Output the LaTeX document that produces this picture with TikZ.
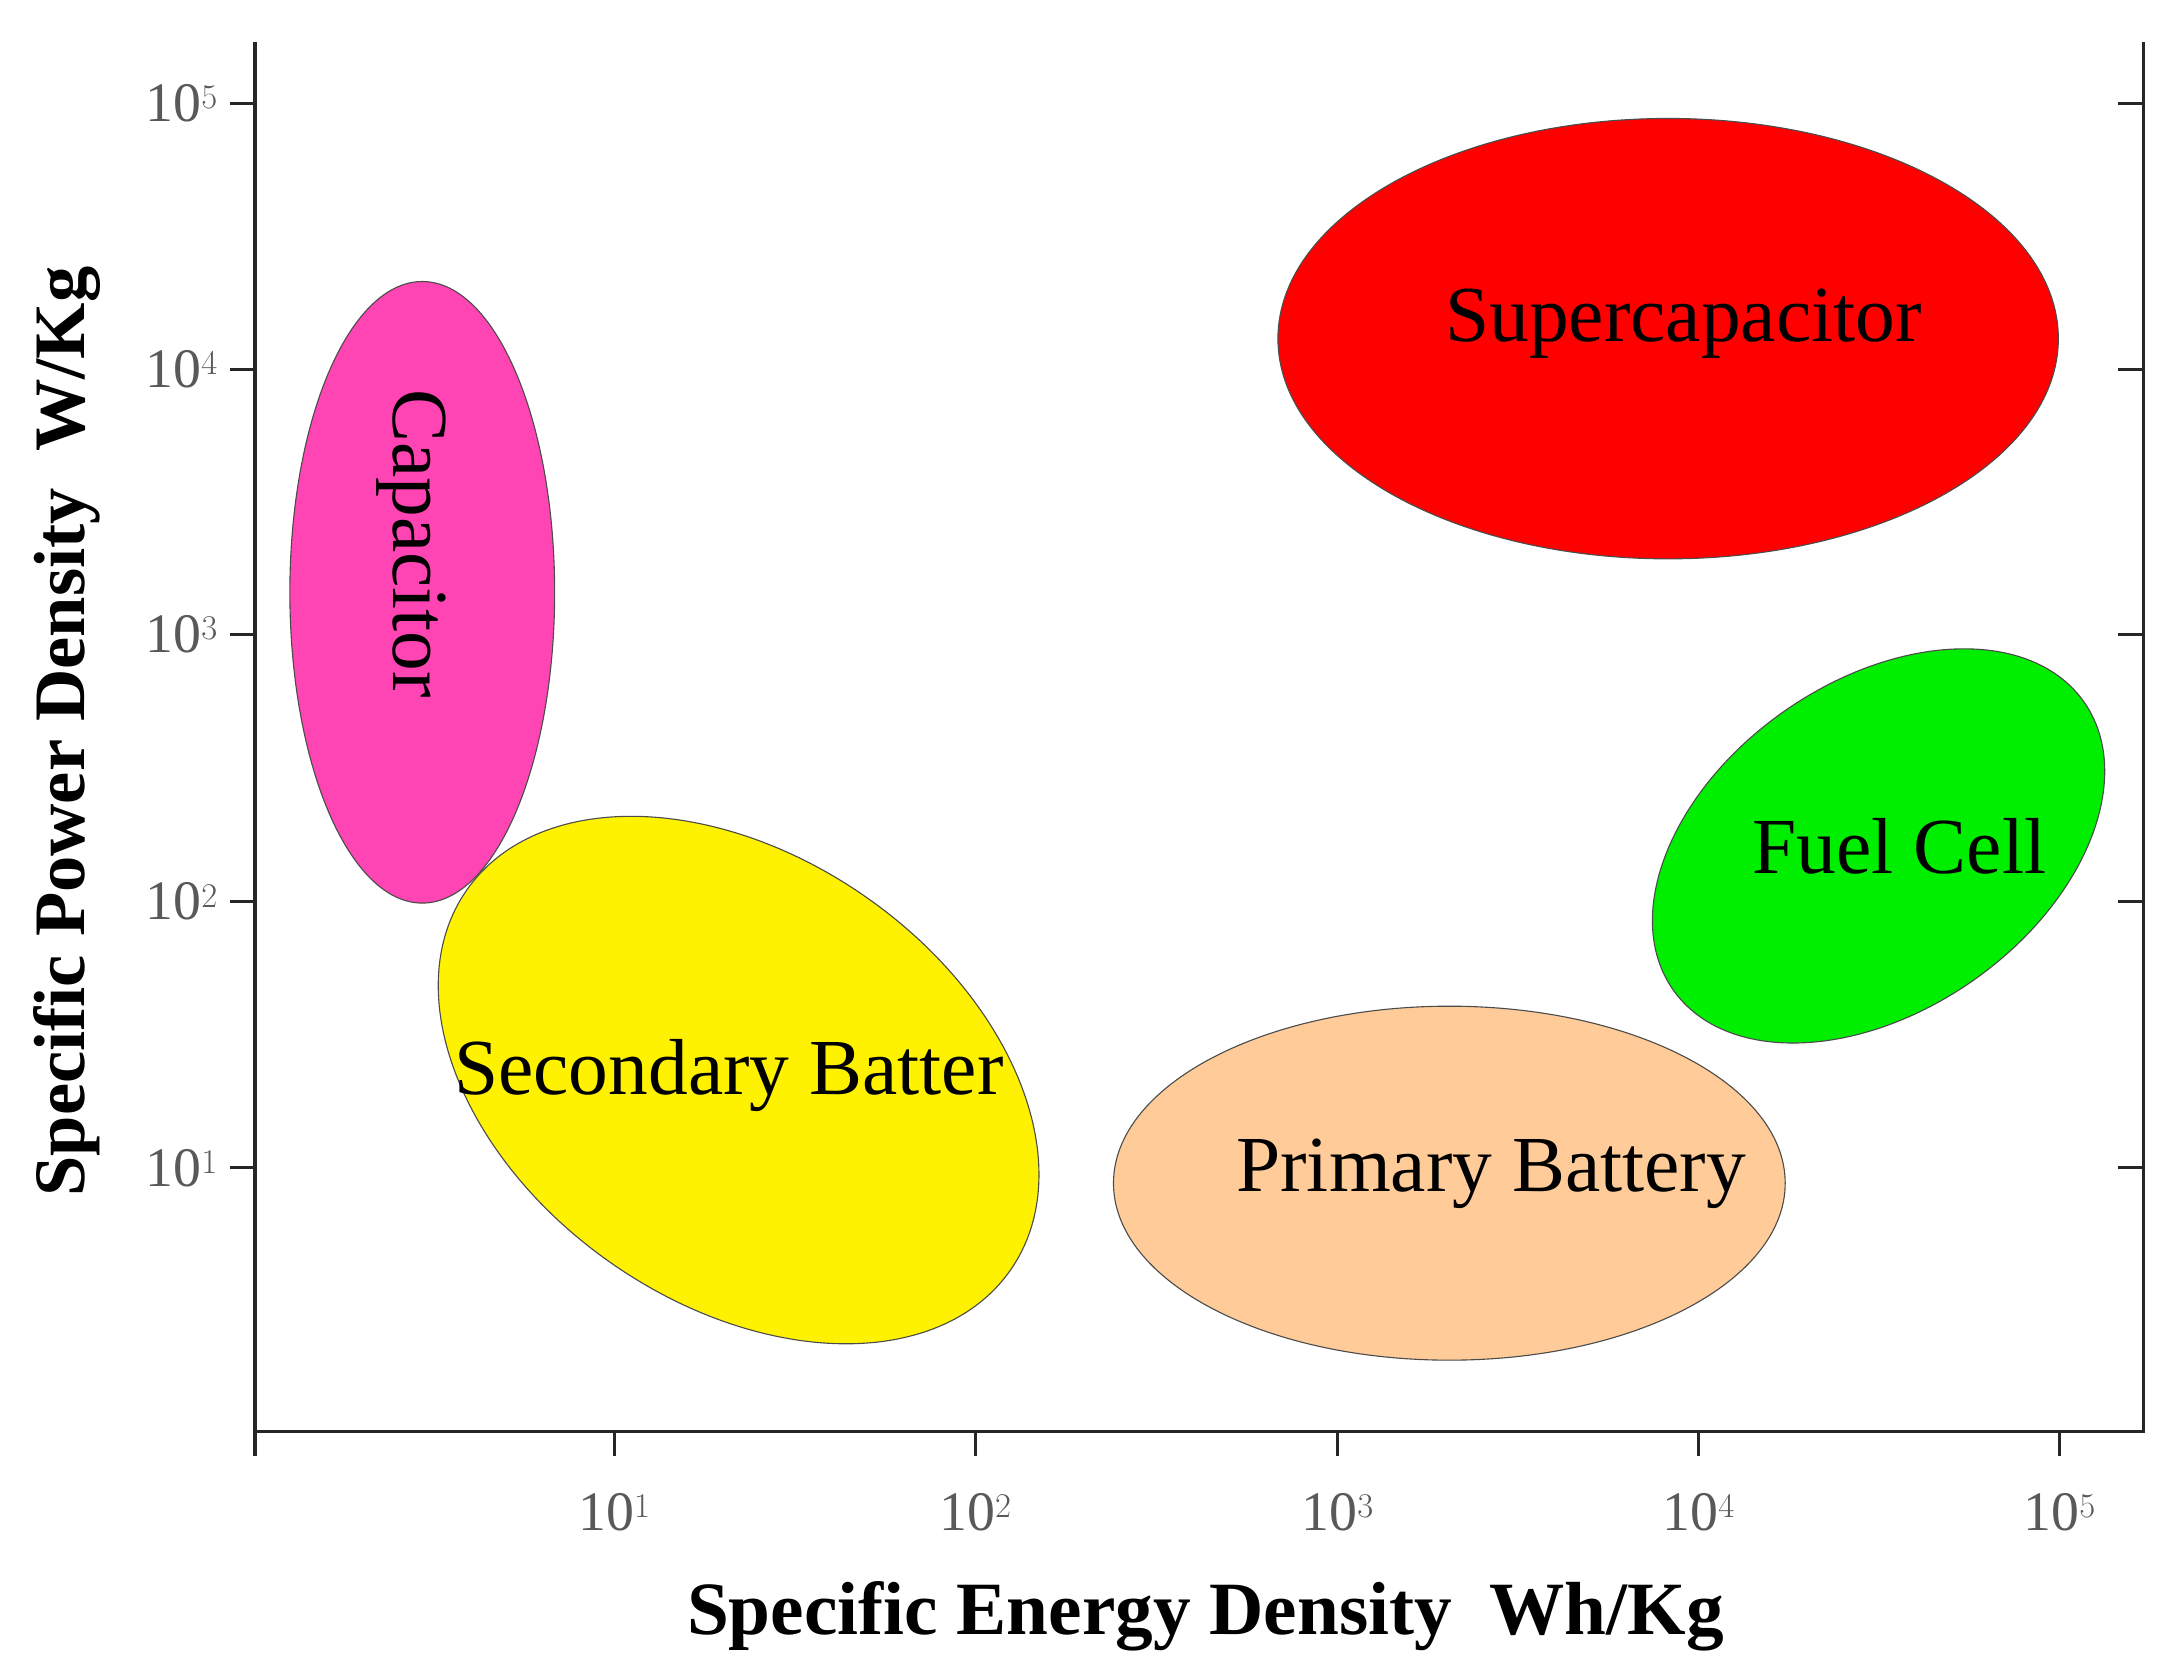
\documentclass[tikz,border=0pt]{standalone}
\usepackage{fontspec}
\setmainfont{Liberation Serif}
\begin{document}
\begin{tikzpicture}[x=1pt,y=-1pt,
  blob/.style={draw=black!70,line width=0.8pt},
  lbl/.style={font=\fontsize{57}{60}\selectfont},
  tk/.style={font=\fontsize{40}{44}\selectfont,text=black!65},
  ax/.style={line width=2.2pt,black!85}]
\useasboundingbox (0,0) rectangle (1560,1195);
\draw[ax] (183,30) -- (183,1027) -- (1538,1027) -- (1538,30);
\foreach \x/\e in {441/1,700/2,960/3,1219/4,1478/5}{
  \draw[ax] (\x,1027) -- (\x,1045);
  \node[tk] (xt\e) at (\x,1085) {10$^{\e}$};}
\draw[ax] (183,1027) -- (183,1045);
\foreach \y/\e in {74/5,265/4,455/3,647/2,838/1}{
  \draw[ax] (165,\y) -- (183,\y);
  \draw[ax] (1520,\y) -- (1538,\y);
  \node[tk,anchor=east] (yt\e) at (160,\y) {10$^{\e}$};}
\draw[blob,fill={rgb,255:red,255;green,68;blue,180}] (303,425) ellipse [x radius=95,y radius=223];
\node[lbl,rotate=-90] (capt) at (295,390) {Capacitor};
\draw[blob,fill=red] (1197,243) ellipse [x radius=280,y radius=158];
\node[lbl] (sct) at (1208,232) {Supercapacitor};
\draw[blob,fill={rgb,255:red,0;green,238;blue,0},rotate around={35:(1348,607)}] (1348,607) ellipse [x radius=180,y radius=118];
\node[lbl] (fct) at (1363,607) {Fuel Cell};
\draw[blob,fill=yellow,rotate around={-35:(530,775)}] (530,775) ellipse [x radius=238,y radius=160];
\node[lbl] (sbt) at (523,772) {Secondary Batter};
\draw[blob,fill={rgb,255:red,255;green,204;blue,153}] (1040,849) ellipse [x radius=241,y radius=127];
\node[lbl] (pbt) at (1070,842) {Primary Battery};
\node[font=\fontsize{54}{58}\selectfont\bfseries] (xl) at (865,1160) {Specific Energy Density\ \ Wh/Kg};
\node[font=\fontsize{52}{56}\selectfont\bfseries,rotate=90] (yl) at (48,525) {Specific Power Density\ \ W/Kg};
\end{tikzpicture}
\end{document}
